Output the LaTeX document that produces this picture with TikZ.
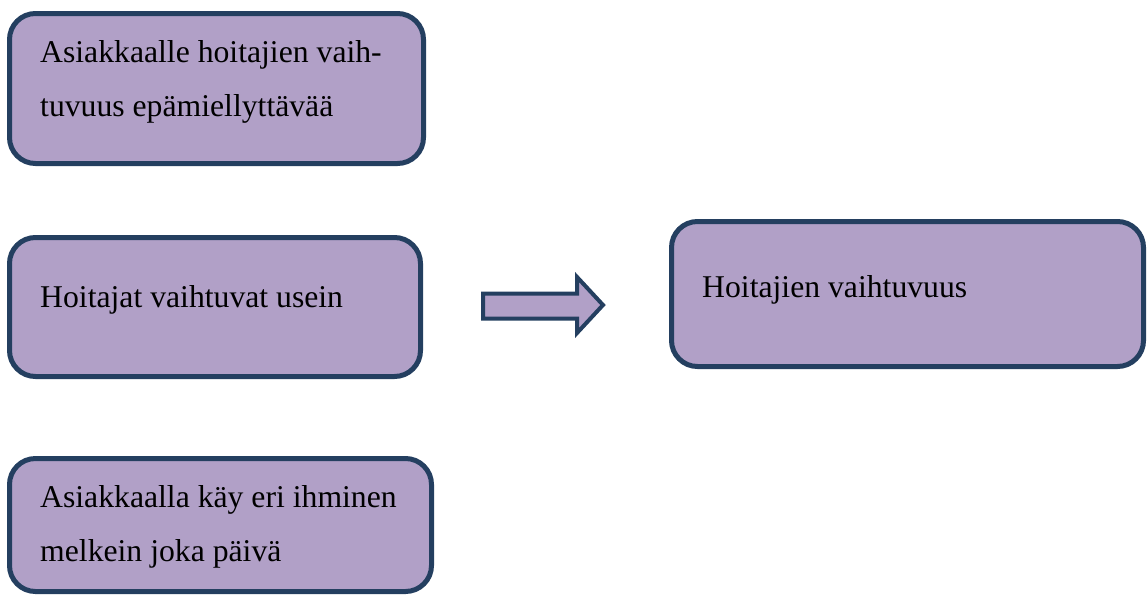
\documentclass[tikz,border=0pt]{standalone}
\usepackage{fontspec}
\setmainfont{Liberation Serif}
\definecolor{boxfill}{HTML}{B1A0C7}
\definecolor{boxline}{HTML}{243F60}
\begin{document}
\begin{tikzpicture}[x=1pt,y=-1pt,
  box/.style={draw=boxline, fill=boxfill, line width=5pt, rounded corners=26pt, inner sep=0pt, outer sep=0pt},
  txt/.style={anchor=base west, inner sep=0pt, align=left, font=\fontsize{31.7}{54}\selectfont}]
\useasboundingbox (0,0) rectangle (1147,595);
\node[box, minimum width=414pt, minimum height=150pt] (b1) at (216.5,88.5) {};
\node[box, minimum width=411pt, minimum height=139pt] (b2) at (215,307) {};
\node[box, minimum width=422pt, minimum height=133pt] (b3) at (220.5,525) {};
\node[box, minimum width=472pt, minimum height=145pt] (b4) at (907.5,294) {};
\node[txt] (t1) at (40,116) {Asiakkaalle hoitajien vaih-\\tuvuus epämiellyttävää};
\node[txt] (t2) at (40,307) {Hoitajat vaihtuvat usein};
\node[txt] (t3) at (40,561) {Asiakkaalla käy eri ihminen\\melkein joka päivä};
\node[txt] (t4) at (702,297) {Hoitajien vaihtuvuus};
\draw[draw=boxline, fill=boxfill, line width=4pt, line join=miter]
  (483,293.5) -- (577,293.5) -- (577,277) -- (603,305) -- (577,333) -- (577,318.5) -- (483,318.5) -- cycle;
\end{tikzpicture}
\end{document}
